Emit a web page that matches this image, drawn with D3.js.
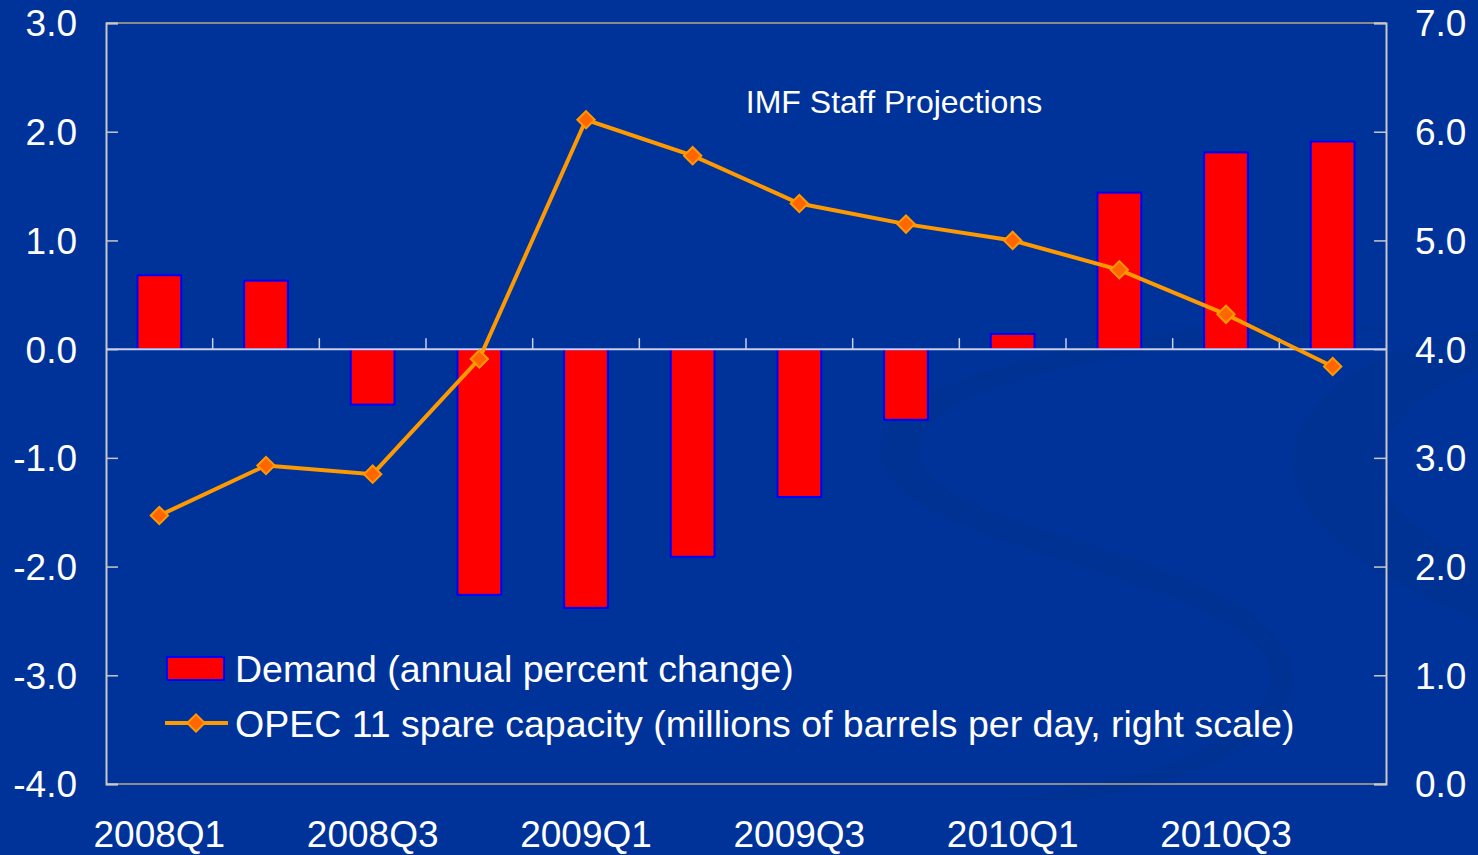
<!DOCTYPE html>
<html>
<head>
<meta charset="utf-8">
<script src="https://cdn.jsdelivr.net/npm/d3@7"></script>
<style>
  body { margin: 0; background: #003399; }
  svg { display: block; font-family: "Liberation Sans", Arial, sans-serif; }
</style>
</head>
<body>
<div id="chart"></div>
<script>
var quarters = ["2008Q1","2008Q2","2008Q3","2008Q4","2009Q1","2009Q2","2009Q3","2009Q4","2010Q1","2010Q2","2010Q3","2010Q4"];
var demand = [0.68, 0.63, -0.51, -2.26, -2.38, -1.91, -1.36, -0.65, 0.14, 1.44, 1.81, 1.91];
var spare = [2.47, 2.93, 2.85, 3.91, 6.11, 5.78, 5.34, 5.15, 5.00, 4.73, 4.32, 3.84];
var leftTicks = [3, 2, 1, 0, -1, -2, -3, -4];
var rightTicks = [7, 6, 5, 4, 3, 2, 1, 0];
var labelQuarters = ["2008Q1","2008Q3","2009Q1","2009Q3","2010Q1","2010Q3"];

var W = 1478, H = 855;
var margin = {top: 23, right: 92, bottom: 71, left: 106};
var width = W - margin.left - margin.right,
    height = H - margin.top - margin.bottom;

// plain hyphen for negatives, like the original
var fmt = function(d) { return d3.format(".1f")(d).replace("\u2212", "-"); };

var svg = d3.select("#chart").append("svg")
    .attr("width", W)
    .attr("height", H);

svg.append("rect").attr("width", W).attr("height", H).attr("fill", "#003399");

// faint background swoosh
svg.append("path")
    .attr("d", "M1478,330 C1300,360 1230,470 1360,560 C1420,600 1478,620 1478,620 L1478,560 C1420,540 1330,480 1420,400 C1450,380 1478,370 1478,370 Z")
    .attr("fill", "#003293");
svg.append("path")
    .attr("d", "M1300,320 C1100,330 880,380 880,450 C880,540 1150,560 1250,640 C1320,700 1200,780 1000,800 L1080,800 C1300,760 1330,680 1260,620 C1160,540 900,520 920,440 C940,380 1150,340 1400,330 Z")
    .attr("fill", "#003293");

var g = svg.append("g")
    .attr("transform", "translate(" + margin.left + "," + margin.top + ")");

var x = d3.scaleBand().domain(quarters).range([0, width]).paddingInner(0.59).paddingOuter(0.295);
var yL = d3.scaleLinear().domain([-4, 3]).range([height, 0]);
var yR = d3.scaleLinear().domain([0, 7]).range([height, 0]);

// frame
g.append("line").attr("x1", 0).attr("x2", width).attr("y1", 0).attr("y2", 0)
    .attr("stroke", "#8a8a8a").attr("stroke-width", 2);
g.append("line").attr("x1", 0).attr("x2", width).attr("y1", height).attr("y2", height)
    .attr("stroke", "#8a8a8a").attr("stroke-width", 2);

// left axis
var leftAxis = g.append("g")
    .call(d3.axisLeft(yL).tickValues(leftTicks).tickSize(-12).tickFormat(fmt));
leftAxis.select(".domain").attr("stroke", "#c8c8c8").attr("stroke-width", 2);
leftAxis.selectAll(".tick line").attr("stroke", "#c8c8c8").attr("stroke-width", 1.5);
leftAxis.selectAll(".tick text").attr("x", -29).attr("fill", "#fff").attr("font-size", 37).attr("dy", "0.35em");

// right axis
var rightAxis = g.append("g")
    .attr("transform", "translate(" + width + ",0)")
    .call(d3.axisRight(yR).tickValues(rightTicks).tickSize(-12).tickFormat(fmt));
rightAxis.select(".domain").attr("stroke", "#c8c8c8").attr("stroke-width", 2);
rightAxis.selectAll(".tick line").attr("stroke", "#c8c8c8").attr("stroke-width", 1.5);
rightAxis.selectAll(".tick text").attr("x", 29).attr("fill", "#fff").attr("font-size", 37).attr("dy", "0.35em");

// bars
g.selectAll("rect.bar")
    .data(quarters)
    .enter().append("rect")
    .attr("class", "bar")
    .attr("x", function(d) { return x(d); })
    .attr("width", x.bandwidth())
    .attr("y", function(d, i) { return yL(Math.max(0, demand[i])); })
    .attr("height", function(d, i) { return Math.abs(yL(demand[i]) - yL(0)); })
    .attr("fill", "#ff0000")
    .attr("stroke", "#0000ff")
    .attr("stroke-width", 2);

// zero axis with ticks at band boundaries
var boundaries = d3.range(1, quarters.length).map(function(i) { return i * x.step(); });
g.append("line").attr("x1", 0).attr("x2", width).attr("y1", yL(0)).attr("y2", yL(0))
    .attr("stroke", "#c8d0ee").attr("stroke-width", 2);
g.selectAll("line.xtick")
    .data(boundaries)
    .enter().append("line")
    .attr("class", "xtick")
    .attr("x1", function(d) { return d; })
    .attr("x2", function(d) { return d; })
    .attr("y1", yL(0))
    .attr("y2", yL(0) - 11)
    .attr("stroke", "#c8d0ee")
    .attr("stroke-width", 1.5);

// x labels
g.selectAll("text.xlab")
    .data(labelQuarters)
    .enter().append("text")
    .attr("class", "xlab")
    .attr("x", function(d) { return x(d) + x.bandwidth() / 2; })
    .attr("y", height + 63)
    .attr("text-anchor", "middle")
    .attr("fill", "#fff")
    .attr("font-size", 37)
    .text(function(d) { return d; });

// line
var line = d3.line()
    .x(function(d, i) { return x(quarters[i]) + x.bandwidth() / 2; })
    .y(function(d) { return yR(d); });
g.append("path")
    .datum(spare)
    .attr("d", line)
    .attr("fill", "none")
    .attr("stroke", "#ff9900")
    .attr("stroke-width", 4);

var diamond = d3.symbol().type(d3.symbolSquare).size(150);
g.selectAll("path.marker")
    .data(spare)
    .enter().append("path")
    .attr("class", "marker")
    .attr("d", diamond)
    .attr("transform", function(d, i) {
        return "translate(" + (x(quarters[i]) + x.bandwidth() / 2) + "," + yR(d) + ") rotate(45)";
    })
    .attr("fill", "#ff6600")
    .attr("stroke", "#ff9900")
    .attr("stroke-width", 2);

// annotation
g.append("text")
    .attr("x", 788)
    .attr("y", 90)
    .attr("text-anchor", "middle")
    .attr("fill", "#fff")
    .attr("font-size", 32)
    .text("IMF Staff Projections");

// legend
var legend = svg.append("g");
legend.append("rect")
    .attr("x", 167).attr("y", 657).attr("width", 57).attr("height", 23)
    .attr("fill", "#ff0000").attr("stroke", "#0000ff").attr("stroke-width", 2);
legend.append("text")
    .attr("x", 235).attr("y", 682)
    .attr("fill", "#fff").attr("font-size", 37.5)
    .text("Demand (annual percent change)");
legend.append("line")
    .attr("x1", 165).attr("x2", 228).attr("y1", 723).attr("y2", 723)
    .attr("stroke", "#ff9900").attr("stroke-width", 4);
legend.append("path")
    .attr("d", diamond)
    .attr("transform", "translate(196,723) rotate(45)")
    .attr("fill", "#ff6600").attr("stroke", "#ff9900").attr("stroke-width", 2);
legend.append("text")
    .attr("x", 235).attr("y", 737)
    .attr("fill", "#fff").attr("font-size", 37.5)
    .text("OPEC 11 spare capacity (millions of barrels per day, right scale)");
</script>
</body>
</html>
